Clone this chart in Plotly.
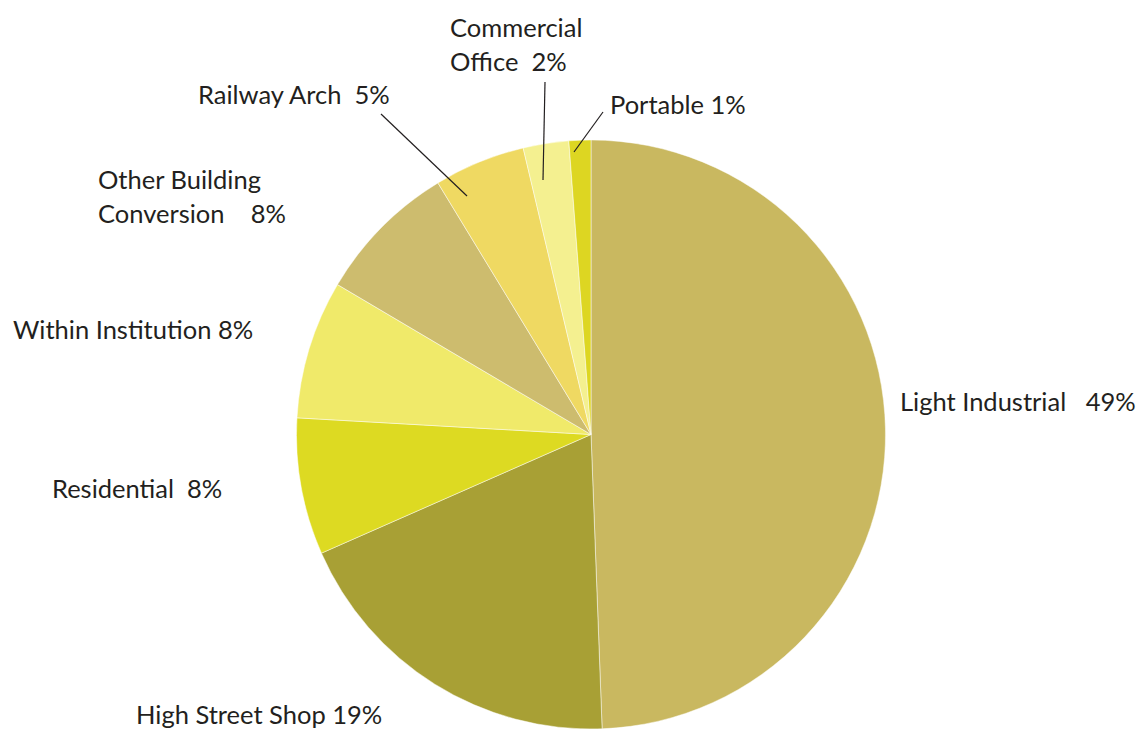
import plotly.graph_objects as go

W, H = 1148, 729

categories = ["Light Industrial", "High Street Shop", "Residential", "Within Institution",
              "Other Building Conversion", "Railway Arch", "Commercial Office", "Portable"]
values = [49.4, 19.0, 7.5, 7.6, 7.8, 5.0, 2.5, 1.2]
colors = ["#C9B860", "#A8A035", "#DDDA22", "#F0EA6A", "#CDBC6E", "#EFD962", "#F4F090", "#DDD622"]

# label text lines (each entry a list of lines), as printed on the chart
NB = "\u00a0"
label_lines = [
    ["Light Industrial" + NB * 3 + "49%"],
    ["High Street Shop 19%"],
    ["Residential" + NB * 2 + "8%"],
    ["Within Institution 8%"],
    ["Other Building", "Conversion" + NB * 4 + "8%"],
    ["Railway Arch" + NB * 2 + "5%"],
    ["Commercial", "Office" + NB * 2 + "2%"],
    ["Portable 1%"],
]
# label anchor (left x, centre y of first line) in pixels
label_pos = [(898, 401), (134, 714), (50, 488), (11, 329), (96, 179), (196, 94), (448, 27), (608, 104)]
line_gap = 34
# leader lines (pixels): start (near label) -> end (in slice)
leaders = {5: ((381, 114), (467, 196)), 6: ((545, 82), (543, 180)), 7: ((603, 112), (574, 152))}

cx, cy, r = 591, 435, 295

fig = go.Figure(go.Pie(
    labels=categories, values=values, sort=False, direction="clockwise", rotation=0,
    marker=dict(colors=colors, line=dict(color="rgba(255,255,255,0.6)", width=0.8)),
    textinfo="none", hoverinfo="label+percent", showlegend=False,
    domain=dict(x=[(cx - r) / W, (cx + r) / W], y=[max(0, (H - cy - r) / H), (H - cy + r) / H]),
))

font = dict(family="Lato, 'Open Sans', sans-serif", size=25.5, color="#231F20")
annotations = []
for i, lines in enumerate(label_lines):
    x0, y0 = label_pos[i]
    for j, t in enumerate(lines):
        annotations.append(dict(x=x0 / W, y=1 - (y0 + j * line_gap) / H, xref="paper", yref="paper",
                                text=t, showarrow=False, xanchor="left", yanchor="middle", font=font))
shapes = []
for i, ((x1, y1), (x2, y2)) in leaders.items():
    shapes.append(dict(type="line", xref="paper", yref="paper", x0=x1 / W, y0=1 - y1 / H,
                       x1=x2 / W, y1=1 - y2 / H, line=dict(color="#231F20", width=1.2)))

fig.update_layout(width=W, height=H, margin=dict(l=0, r=0, t=0, b=0),
                  paper_bgcolor="white", plot_bgcolor="white",
                  annotations=annotations, shapes=shapes)
fig.write_html("out.html", config={"displayModeBar": False},
               post_script="document.body.style.margin='0';document.body.style.overflow='hidden';")
